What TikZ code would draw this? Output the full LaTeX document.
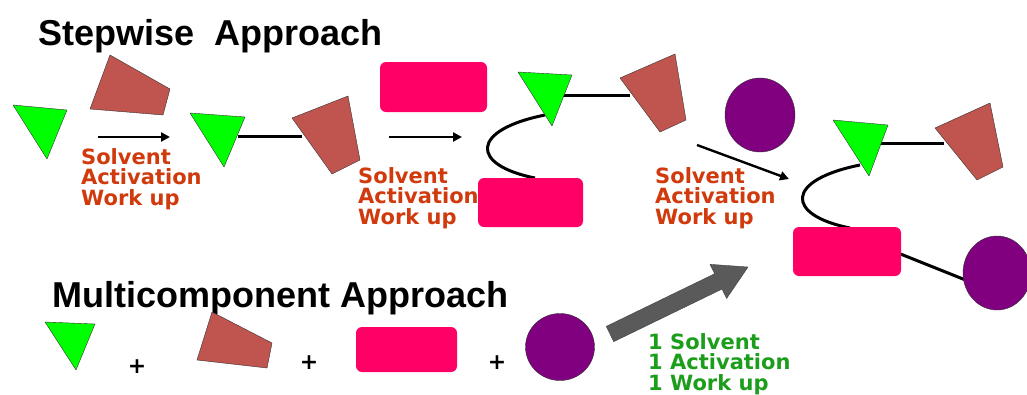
\documentclass[tikz,border=0pt]{standalone}
\usepackage{fontspec}
\setmainfont{Liberation Sans}
\newfontfamily\condfont{DejaVu Sans}
\usetikzlibrary{arrows.meta,calc}

\definecolor{reagentgreen}{RGB}{0,255,0}
\definecolor{reagentbrown}{RGB}{192,84,78}
\definecolor{reagentpink}{RGB}{255,0,102}
\definecolor{reagentpurple}{RGB}{128,0,128}
\definecolor{condred}{RGB}{208,58,12}
\definecolor{condgreen}{RGB}{28,158,28}
\definecolor{bigarrow}{RGB}{90,90,90}

\begin{document}
\begin{tikzpicture}[x=1pt,y=-1pt,
    tri/.style={draw=black!80,fill=reagentgreen,line join=round},
    trap/.style={draw=black!80,fill=reagentbrown,line join=round},
    box/.style={fill=reagentpink,rounded corners=6pt},
    ball/.style={draw=black!80,fill=reagentpurple},
    bond/.style={line width=3pt},
    react/.style={line width=2.4pt,-{Triangle[length=9pt,width=9pt]}},
    title/.style={font=\bfseries\fontsize{36}{36}\selectfont,anchor=base west,inner sep=0pt},
    cond/.style={font=\condfont\bfseries\fontsize{21}{20.5}\selectfont,align=left,anchor=north west,inner sep=0pt},
    plus/.style={font=\condfont\bfseries\fontsize{22}{22}\selectfont,inner sep=0pt}]
  \fill[white] (0,0) rectangle (1027,394);
  \useasboundingbox (0,0) rectangle (1027,394);

  % titles
  \node[title] (steptitle) at (38,45) {Stepwise\ \ Approach};
  \node[title] (mctitle) at (52,307) {Multicomponent Approach};

  % --- stepwise route ---
  % start materials
  \draw[tri] (13,105) -- (67,110) -- (47,159) -- cycle;
  \draw[trap] (110,55) -- (170,89) -- (163,115) -- (90,109) -- cycle;
  \coordinate (r1a) at (98,137);
  \coordinate (r1b) at (170,137);
  \draw[react] (r1a) -- (r1b);
  \node[cond,text=condred] (cond1) at (81,148) {Solvent\\Activation\\Work up};

  % first product
  \coordinate (p1tri) at (238,136);
  \coordinate (p1trap) at (302,136);
  \draw[bond] (p1tri) -- (p1trap);
  \draw[tri] (190,113) -- (245,117) -- (224,167) -- cycle;
  \draw[trap] (292,118) -- (348,96) -- (360,160) -- (332,174) -- cycle;

  \fill[box] (380,62) rectangle (487,112);
  \coordinate (r2a) at (389,137);
  \coordinate (r2b) at (462,137);
  \draw[react] (r2a) -- (r2b);
  \node[cond,text=condred] (cond2) at (358,167) {Solvent\\Activation\\Work up};

  % second product
  \coordinate (p2tri) at (562,95);
  \coordinate (p2trap) at (630,95);
  \coordinate (p2link) at (545,115);
  \coordinate (p2box) at (535,178);
  \draw[bond] (p2tri) -- (p2trap);
  \draw[bond] (p2link) .. controls (470,130) and (470,165) .. (p2box);
  \draw[tri] (518,72) -- (572,75) -- (552,126) -- cycle;
  \draw[trap] (620,78) -- (675,54) -- (686,120) -- (660,132) -- cycle;
  \fill[box] (478,178) rectangle (583,227);

  \draw[ball] (760,115) ellipse [x radius=35pt,y radius=37pt];
  \coordinate (r3a) at (697,145);
  \coordinate (r3b) at (789,179);
  \draw[react] (r3a) -- (r3b);
  \node[cond,text=condred] (cond3) at (655,167) {Solvent\\Activation\\Work up};

  % final product
  \coordinate (p3tri) at (880,143);
  \coordinate (p3trap) at (944,143);
  \coordinate (p3link) at (860,165);
  \coordinate (p3box) at (850,228);
  \coordinate (p3boxr) at (898,253);
  \coordinate (p3ball) at (968,281);
  \draw[bond] (p3tri) -- (p3trap);
  \draw[bond] (p3link) .. controls (785,180) and (785,215) .. (p3box);
  \draw[bond] (p3boxr) -- (p3ball);
  \draw[tri] (833,120) -- (888,125) -- (869,176) -- cycle;
  \draw[trap] (935,128) -- (990,103) -- (1003,167) -- (977,180) -- cycle;
  \fill[box] (793,227) rectangle (901,276);
  \draw[ball] (997,273) ellipse [x radius=34pt,y radius=37pt];

  % --- multicomponent route ---
  \draw[tri] (45,322) -- (95,324) -- (76,370) -- cycle;
  \node[plus] (plus1) at (137,367) {+};
  \draw[trap] (212,312) -- (272,343) -- (267,368) -- (197,360) -- cycle;
  \node[plus] (plus2) at (309,363) {+};
  \fill[box] (356,327) rectangle (457,372);
  \node[plus] (plus3) at (497,363) {+};
  \draw[ball] (560,347) ellipse [x radius=34.5pt,y radius=33.5pt];

  % one-pot arrow
  \coordinate (mctail) at (610,334);
  \coordinate (mctip) at (748,267);
  \coordinate (mchead) at ($(mctip)!33pt!(mctail)$);
  \draw[draw=black!75,fill=bigarrow,line join=round]
    ($(mctail)!8.5pt!90:(mctip)$) -- ($(mchead)!8.5pt!-90:(mctail)$)
    -- ($(mchead)!19pt!-90:(mctail)$) -- (mctip)
    -- ($(mchead)!19pt!90:(mctail)$) -- ($(mchead)!8.5pt!90:(mctail)$)
    -- ($(mctail)!8.5pt!-90:(mctip)$) -- cycle;
  \node[cond,text=condgreen] (mccond) at (648,333) {1 Solvent\\1 Activation\\1 Work up};
\end{tikzpicture}
\end{document}
